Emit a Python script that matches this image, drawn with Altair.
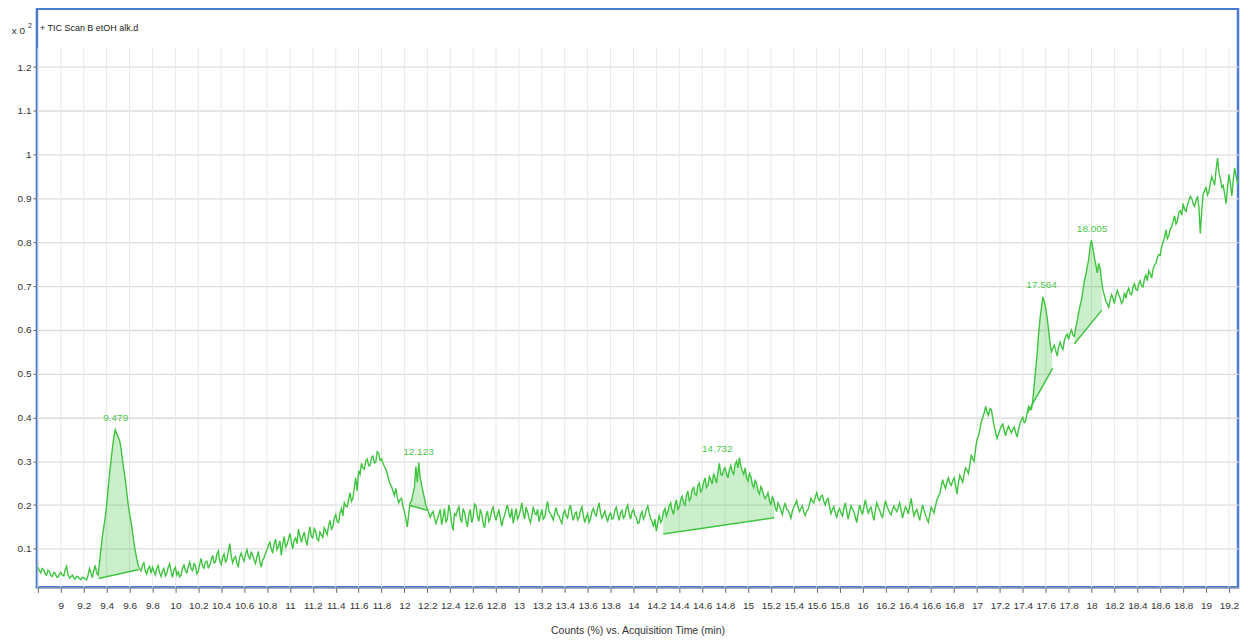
import altair as alt
import pandas as pd

FONT = "Liberation Sans, Arial, sans-serif"

# ---- trace: TIC signal sampled every 0.0125 min from 8.8 min ----
t_start = 8.8
t_step = 0.0125
signal = [
    0.058, 0.050, 0.045, 0.055, 0.052, 0.043, 0.040, 0.051, 0.048, 0.039, 0.037, 0.046, 0.044, 0.036, 0.035, 0.042, 0.046, 0.040, 0.038, 0.052,
    0.060, 0.041, 0.033, 0.036, 0.040, 0.034, 0.031, 0.037, 0.036, 0.032, 0.030, 0.035, 0.034, 0.031, 0.029, 0.040, 0.055, 0.045, 0.034, 0.050,
    0.062, 0.045, 0.040, 0.068, 0.100, 0.128, 0.150, 0.172, 0.200, 0.238, 0.270, 0.300, 0.330, 0.355, 0.372, 0.362, 0.355, 0.348, 0.330, 0.305,
    0.280, 0.258, 0.230, 0.202, 0.180, 0.162, 0.140, 0.115, 0.095, 0.078, 0.062, 0.055, 0.050, 0.062, 0.068, 0.049, 0.042, 0.055, 0.060, 0.044,
    0.058, 0.049, 0.040, 0.055, 0.062, 0.045, 0.037, 0.050, 0.055, 0.038, 0.044, 0.058, 0.066, 0.048, 0.035, 0.052, 0.058, 0.040, 0.047, 0.036,
    0.041, 0.056, 0.063, 0.050, 0.045, 0.060, 0.070, 0.054, 0.050, 0.066, 0.062, 0.043, 0.048, 0.065, 0.078, 0.060, 0.056, 0.070, 0.072, 0.057,
    0.062, 0.074, 0.085, 0.068, 0.070, 0.088, 0.095, 0.072, 0.064, 0.080, 0.088, 0.070, 0.075, 0.095, 0.112, 0.084, 0.068, 0.078, 0.082, 0.066,
    0.060, 0.082, 0.090, 0.079, 0.072, 0.088, 0.098, 0.083, 0.077, 0.092, 0.086, 0.074, 0.066, 0.082, 0.094, 0.071, 0.058, 0.075, 0.080, 0.090,
    0.098, 0.108, 0.115, 0.100, 0.090, 0.112, 0.122, 0.098, 0.105, 0.118, 0.085, 0.110, 0.128, 0.104, 0.110, 0.122, 0.135, 0.116, 0.100, 0.120,
    0.125, 0.112, 0.145, 0.130, 0.115, 0.128, 0.138, 0.120, 0.108, 0.132, 0.150, 0.128, 0.125, 0.146, 0.140, 0.122, 0.118, 0.138, 0.132, 0.126,
    0.148, 0.140, 0.132, 0.152, 0.165, 0.145, 0.150, 0.170, 0.178, 0.162, 0.160, 0.182, 0.192, 0.175, 0.205, 0.198, 0.196, 0.212, 0.228, 0.208,
    0.215, 0.240, 0.262, 0.232, 0.278, 0.270, 0.295, 0.285, 0.282, 0.300, 0.305, 0.290, 0.290, 0.308, 0.312, 0.296, 0.298, 0.322, 0.318, 0.302,
    0.305, 0.296, 0.288, 0.282, 0.272, 0.258, 0.248, 0.242, 0.232, 0.222, 0.238, 0.218, 0.205, 0.212, 0.215, 0.196, 0.185, 0.168, 0.150, 0.180,
    0.205, 0.210, 0.225, 0.240, 0.288, 0.252, 0.297, 0.262, 0.245, 0.230, 0.215, 0.198, 0.192, 0.182, 0.172, 0.180, 0.185, 0.170, 0.158, 0.168,
    0.178, 0.190, 0.155, 0.172, 0.192, 0.160, 0.168, 0.200, 0.185, 0.158, 0.142, 0.180, 0.176, 0.188, 0.196, 0.170, 0.160, 0.192, 0.183, 0.165,
    0.150, 0.178, 0.190, 0.160, 0.172, 0.202, 0.198, 0.175, 0.163, 0.188, 0.180, 0.158, 0.148, 0.176, 0.186, 0.162, 0.170, 0.188, 0.195, 0.176,
    0.165, 0.180, 0.188, 0.170, 0.152, 0.168, 0.176, 0.190, 0.200, 0.182, 0.170, 0.192, 0.158, 0.175, 0.192, 0.168, 0.175, 0.188, 0.205, 0.182,
    0.168, 0.195, 0.185, 0.170, 0.160, 0.176, 0.196, 0.182, 0.178, 0.190, 0.162, 0.176, 0.190, 0.168, 0.172, 0.192, 0.208, 0.186, 0.180, 0.174,
    0.166, 0.182, 0.194, 0.178, 0.175, 0.165, 0.158, 0.180, 0.188, 0.175, 0.170, 0.190, 0.200, 0.178, 0.165, 0.180, 0.184, 0.166, 0.172, 0.188,
    0.196, 0.176, 0.160, 0.172, 0.180, 0.160, 0.168, 0.185, 0.192, 0.180, 0.175, 0.192, 0.205, 0.182, 0.170, 0.178, 0.186, 0.172, 0.163, 0.176,
    0.182, 0.168, 0.170, 0.188, 0.195, 0.178, 0.165, 0.182, 0.188, 0.170, 0.175, 0.192, 0.200, 0.180, 0.168, 0.184, 0.190, 0.176, 0.172, 0.158,
    0.160, 0.178, 0.185, 0.168, 0.176, 0.190, 0.198, 0.182, 0.170, 0.162, 0.150, 0.168, 0.140, 0.158, 0.178, 0.160, 0.165, 0.184, 0.192, 0.175,
    0.185, 0.198, 0.205, 0.188, 0.178, 0.200, 0.212, 0.190, 0.195, 0.212, 0.220, 0.205, 0.200, 0.222, 0.232, 0.210, 0.215, 0.235, 0.240, 0.225,
    0.222, 0.245, 0.250, 0.230, 0.235, 0.252, 0.262, 0.240, 0.245, 0.265, 0.258, 0.248, 0.272, 0.262, 0.250, 0.275, 0.295, 0.270, 0.268, 0.280,
    0.285, 0.272, 0.262, 0.280, 0.290, 0.276, 0.270, 0.292, 0.300, 0.285, 0.308, 0.290, 0.278, 0.270, 0.285, 0.262, 0.255, 0.272, 0.265, 0.248,
    0.240, 0.256, 0.250, 0.232, 0.225, 0.242, 0.235, 0.222, 0.215, 0.220, 0.228, 0.210, 0.200, 0.218, 0.212, 0.195, 0.185, 0.205, 0.198, 0.188,
    0.178, 0.194, 0.205, 0.190, 0.188, 0.180, 0.170, 0.186, 0.195, 0.202, 0.210, 0.195, 0.185, 0.192, 0.198, 0.184, 0.176, 0.186, 0.190, 0.202,
    0.215, 0.208, 0.205, 0.218, 0.228, 0.215, 0.210, 0.220, 0.222, 0.208, 0.200, 0.212, 0.215, 0.196, 0.180, 0.190, 0.196, 0.182, 0.172, 0.185,
    0.192, 0.182, 0.175, 0.192, 0.205, 0.185, 0.168, 0.184, 0.198, 0.190, 0.185, 0.172, 0.160, 0.182, 0.200, 0.188, 0.178, 0.196, 0.212, 0.195,
    0.182, 0.190, 0.195, 0.178, 0.165, 0.188, 0.205, 0.195, 0.188, 0.178, 0.172, 0.192, 0.210, 0.198, 0.190, 0.182, 0.178, 0.190, 0.198, 0.190,
    0.185, 0.195, 0.205, 0.188, 0.170, 0.184, 0.196, 0.190, 0.180, 0.198, 0.215, 0.192, 0.175, 0.184, 0.190, 0.176, 0.165, 0.185, 0.200, 0.188,
    0.178, 0.168, 0.160, 0.178, 0.195, 0.188, 0.182, 0.198, 0.212, 0.220, 0.225, 0.242, 0.258, 0.246, 0.238, 0.252, 0.262, 0.250, 0.245, 0.255,
    0.262, 0.245, 0.225, 0.250, 0.268, 0.260, 0.252, 0.270, 0.285, 0.280, 0.272, 0.292, 0.315, 0.305, 0.300, 0.328, 0.350, 0.358, 0.372, 0.390,
    0.400, 0.410, 0.425, 0.412, 0.405, 0.420, 0.418, 0.398, 0.380, 0.365, 0.352, 0.362, 0.372, 0.380, 0.385, 0.370, 0.358, 0.372, 0.380, 0.372,
    0.365, 0.372, 0.378, 0.366, 0.355, 0.372, 0.385, 0.395, 0.400, 0.388, 0.392, 0.410, 0.425, 0.420, 0.418, 0.440, 0.475, 0.510, 0.545, 0.590,
    0.625, 0.650, 0.675, 0.665, 0.648, 0.628, 0.600, 0.570, 0.550, 0.558, 0.565, 0.552, 0.540, 0.560, 0.572, 0.562, 0.555, 0.575, 0.585, 0.590,
    0.578, 0.592, 0.600, 0.588, 0.585, 0.605, 0.620, 0.640, 0.655, 0.668, 0.690, 0.712, 0.725, 0.745, 0.760, 0.790, 0.805, 0.785, 0.765, 0.748,
    0.730, 0.752, 0.740, 0.712, 0.690, 0.678, 0.665, 0.660, 0.650, 0.668, 0.680, 0.672, 0.660, 0.678, 0.690, 0.680, 0.672, 0.660, 0.665, 0.685,
    0.672, 0.688, 0.695, 0.682, 0.680, 0.698, 0.705, 0.692, 0.690, 0.705, 0.712, 0.700, 0.698, 0.718, 0.725, 0.712, 0.735, 0.728, 0.718, 0.738,
    0.748, 0.752, 0.765, 0.772, 0.770, 0.790, 0.800, 0.810, 0.828, 0.808, 0.815, 0.830, 0.835, 0.848, 0.860, 0.842, 0.848, 0.868, 0.872, 0.862,
    0.888, 0.875, 0.870, 0.885, 0.895, 0.905, 0.900, 0.888, 0.882, 0.895, 0.905, 0.880, 0.820, 0.872, 0.910, 0.918, 0.925, 0.908, 0.915, 0.935,
    0.950, 0.940, 0.930, 0.965, 0.992, 0.960, 0.945, 0.925, 0.930, 0.910, 0.888, 0.925, 0.955, 0.935, 0.905, 0.942, 0.970, 0.950, 0.935, 0.945,
]

# ---- integrated peaks ----
peak_rt = [9.479, 12.123, 14.732, 17.564, 18.005]
peak_apex = [0.373, 0.297, 0.302, 0.677, 0.805]
base_start_t = [9.33, 12.05, 14.26, 17.44, 17.85]
base_start_v = [0.032, 0.199, 0.134, 0.410, 0.568]
base_end_t = [9.68, 12.20, 15.23, 17.66, 18.09]
base_end_v = [0.053, 0.188, 0.171, 0.512, 0.645]

# ---- axes ----
x_ticks = [8.8, 9.0, 9.2, 9.4, 9.6, 9.8, 10.0, 10.2, 10.4, 10.6, 10.8, 11.0, 11.2, 11.4, 11.6, 11.8,
           12.0, 12.2, 12.4, 12.6, 12.8, 13.0, 13.2, 13.4, 13.6, 13.8, 14.0, 14.2, 14.4, 14.6, 14.8,
           15.0, 15.2, 15.4, 15.6, 15.8, 16.0, 16.2, 16.4, 16.6, 16.8, 17.0, 17.2, 17.4, 17.6, 17.8,
           18.0, 18.2, 18.4, 18.6, 18.8, 19.0, 19.2]
y_ticks = [0.1, 0.2, 0.3, 0.4, 0.5, 0.6, 0.7, 0.8, 0.9, 1.0, 1.1, 1.2]
x_domain = [8.791, 19.279]
y_domain = [0.012, 1.333]
x_title = "Counts (%) vs. Acquisition Time (min)"
legend_text = "+ TIC Scan B etOH alk.d"
scale_text = "x 0"
scale_exp = "2"

GREEN = "#3fc43f"
BLUE = "#4a7bd0"

# ---- tables ----
times = [round(t_start + i * t_step, 5) for i in range(len(signal))]
trace_df = pd.DataFrame({"t": times, "v": signal})

rows = []
for k in range(len(peak_rt)):
    t0, v0, t1, v1 = base_start_t[k], base_start_v[k], base_end_t[k], base_end_v[k]
    rows.append({"peak": k, "t": t0, "v": v0, "base": v0})
    for t, v in zip(times, signal):
        if t0 < t < t1:
            b = v0 + (v1 - v0) * (t - t0) / (t1 - t0)
            rows.append({"peak": k, "t": t, "v": v, "base": b})
    rows.append({"peak": k, "t": t1, "v": v1, "base": v1})
area_df = pd.DataFrame(rows)

bl_rows = []
for k in range(len(peak_rt)):
    bl_rows.append({"peak": k, "t": base_start_t[k], "v": base_start_v[k]})
    bl_rows.append({"peak": k, "t": base_end_t[k], "v": base_end_v[k]})
bl_df = pd.DataFrame(bl_rows)

lab_df = pd.DataFrame({"t": peak_rt, "v": peak_apex,
                       "label": [f"{r:.3f}" for r in peak_rt]})
grid_df = pd.DataFrame({"t": x_ticks})

xs = alt.Scale(domain=x_domain, nice=False, zero=False)
ys = alt.Scale(domain=y_domain, nice=False, zero=False)

x_axis = alt.Axis(
    values=x_ticks,
    labelExpr="datum.value < 8.9 ? '' : format(datum.value, '~g')",
    grid=False, tickSize=5, tickColor="#666666", domainColor="#9a9a9a",
    labelFont=FONT, labelFontSize=10, labelColor="#333333", labelPadding=8,
    labelOverlap=False, labelFlush=False,
    titleFont=FONT, titleFontSize=10.5, titleFontWeight="normal", titleColor="#333333",
    titlePadding=15,
)
y_axis = alt.Axis(
    values=y_ticks, format="~g", grid=True, gridColor="#dcdcdc", gridWidth=1.3,
    tickSize=4, tickColor="#666666", domain=False,
    labelFont=FONT, labelFontSize=10, labelColor="#333333", labelPadding=2,
)


def X(field):
    return alt.X(field, scale=xs, axis=x_axis, title=x_title)


def Y(field):
    return alt.Y(field, scale=ys, axis=y_axis, title=None)


vgrid = alt.Chart(grid_df).mark_rule(color="#e8e8e8", strokeWidth=1).encode(
    x=X("t:Q"), y=alt.value(39), y2=alt.value(580),
)

area = alt.Chart(area_df).mark_area(color=GREEN, opacity=0.27, interpolate="linear").encode(
    x=X("t:Q"), y=Y("v:Q"), y2="base:Q", detail="peak:N",
)

baseline = alt.Chart(bl_df).mark_line(color=GREEN, strokeWidth=1.5).encode(
    x=X("t:Q"), y=Y("v:Q"), detail="peak:N",
)

trace = alt.Chart(trace_df).mark_line(color=GREEN, strokeWidth=1.4, clip=True).encode(
    x=X("t:Q"), y=Y("v:Q"),
)

labels = alt.Chart(lab_df).mark_text(
    color="#4cc64c", font=FONT, fontSize=10, dy=-11, baseline="middle", align="center"
).encode(x=X("t:Q"), y=Y("v:Q"), text="label:N")

one = pd.DataFrame({"a": [0]})
legend = alt.Chart(one).mark_text(
    font=FONT, fontSize=9, color="#222222", align="left", baseline="middle"
).encode(x=alt.value(3), y=alt.value(19), text=alt.value(legend_text))
scale_lbl = alt.Chart(one).mark_text(
    font=FONT, fontSize=10, color="#333333", align="right", baseline="middle"
).encode(x=alt.value(-12), y=alt.value(22), text=alt.value(scale_text))
scale_sup = alt.Chart(one).mark_text(
    font=FONT, fontSize=7, color="#333333", align="left", baseline="middle"
).encode(x=alt.value(-9), y=alt.value(17), text=alt.value(scale_exp))

chart = alt.layer(vgrid, area, baseline, trace, labels, legend, scale_lbl, scale_sup).properties(
    width=1204, height=580,
    padding={"left": 29, "top": 0, "right": 2, "bottom": 50},
    autosize=alt.AutoSizeParams(type="none"),
    background="white",
).configure_view(stroke=BLUE, strokeWidth=2.5)

chart.save("out.html", embed_options={"renderer": "svg", "actions": False})
